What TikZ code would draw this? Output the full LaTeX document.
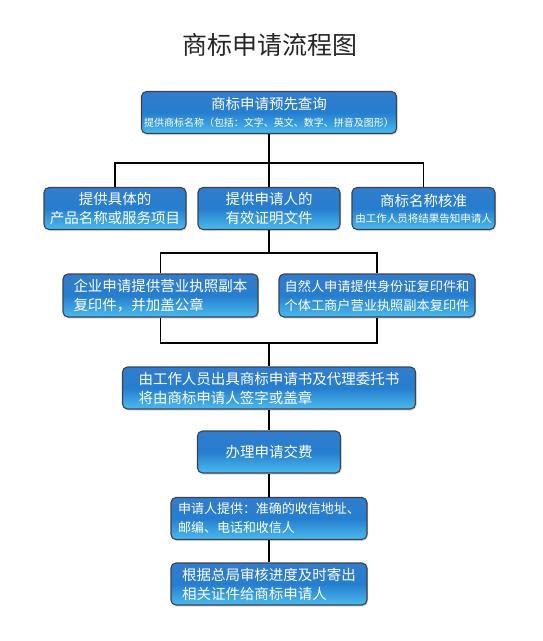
\documentclass[tikz,border=0pt]{standalone}
\usepackage{fontspec}
\newfontfamily\cjk{Noto Sans CJK SC}
\usetikzlibrary{calc,shadows}
\definecolor{boxtop}{RGB}{50,124,205}
\definecolor{boxmid}{RGB}{38,126,206}
\definecolor{boxbot}{RGB}{74,186,238}
\definecolor{boxline}{RGB}{58,66,80}

\begin{document}
\begin{tikzpicture}[x=1pt, y=-1pt,
  stepbox/.style={rounded corners=5pt, draw=boxline, line width=1.1pt,
    top color=boxtop, bottom color=boxbot, middle color=boxmid,
    text=white, align=center, inner sep=2pt, minimum height=42pt,
    font=\fontsize{14.5}{19}\selectfont\cjk,
    drop shadow={opacity=0.3, shadow xshift=1pt, shadow yshift=-1.5pt}},
  lstep/.style={stepbox, align=left},
  link/.style={line width=1.6pt, draw=black},
  ttl/.style={font=\fontsize{25}{28}\selectfont\cjk, text=black!85}]

\useasboundingbox (0,0) rectangle (543,641);

% title
\node[ttl] (title) at (270,45) {商标申请流程图};

% query
\node[stepbox, minimum width=255pt] (query) at (269,112.5)
  {商标申请预先查询\\[-2pt]{\fontsize{10}{13}\selectfont 提供商标名称（包括：文字、英文、数字、拼音及图形）}};

% three materials
\node[stepbox, minimum width=142pt] (prod) at (115,208.5) {提供具体的\\产品名称或服务项目};
\node[stepbox, minimum width=142pt] (cert) at (269,208.5) {提供申请人的\\有效证明文件};
\node[stepbox, minimum width=143pt] (name) at (423.5,208.5)
  {商标名称核准\\[-3pt]{\fontsize{10.5}{13}\selectfont 由工作人员将结果告知申请人}};

% two kinds of applicant
\node[lstep, minimum width=195pt, minimum height=43pt] (corp) at (160.5,295.5) {企业申请提供营业执照副本\\复印件，并加盖公章};
\node[lstep, minimum width=196pt, minimum height=43pt, font=\fontsize{13.2}{19}\selectfont\cjk] (pers) at (377,295.5) {自然人申请提供身份证复印件和\\个体工商户营业执照副本复印件};

% the rest of the chain
\node[lstep, minimum width=293pt] (form) at (269,388) {由工作人员出具商标申请书及代理委托书\\将由商标申请人签字或盖章};
\node[stepbox, minimum width=143pt] (fee) at (269,452) {办理申请交费};
\node[lstep, minimum width=196pt, font=\fontsize{13}{19}\selectfont\cjk] (addr) at (269,518.5) {申请人提供：准确的收信地址、\\邮编、电话和收信人};
\node[lstep, minimum width=196pt] (mail) at (269,584) {根据总局审核进度及时寄出\\相关证件给商标申请人};

% junctions
\coordinate (s1) at (query.south |- 0,163);
\coordinate (s2) at (cert.south |- 0,253);
\coordinate (s3) at (cert.south |- 0,343);

% connectors
\draw[link] (query.south) -- (cert.north);
\draw[link] (prod.north) |- (s1) -| (name.north);
\draw[link] (cert.south) -- (s2);
\draw[link] (corp.north) |- (s2) -| (pers.north);
\draw[link] (corp.south) |- (s3) -| (pers.south);
\draw[link] (s3) -- (form.north);
\draw[link] (form) -- (fee);
\draw[link] (fee) -- (addr);
\draw[link] (addr) -- (mail);

\end{tikzpicture}
\end{document}
